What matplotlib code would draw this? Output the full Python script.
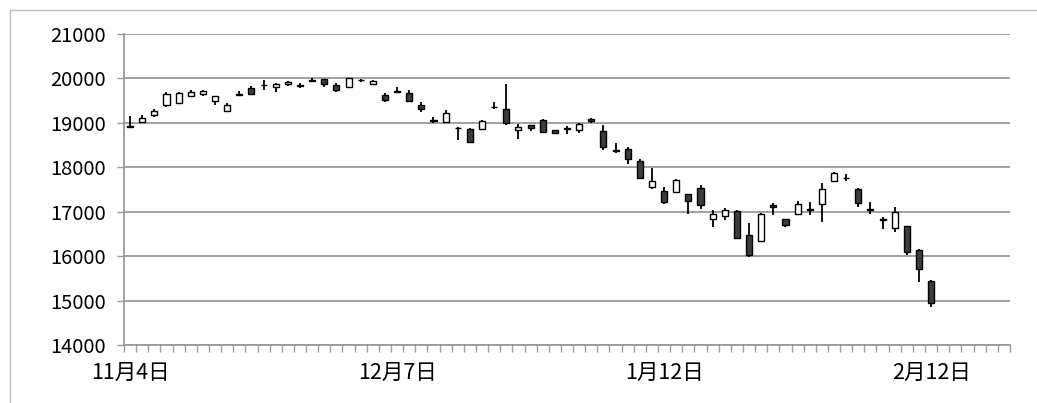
import numpy as np
import matplotlib
matplotlib.use('Agg')
import matplotlib.pyplot as plt
from matplotlib.lines import Line2D

plt.rcParams['font.family'] = ['Noto Sans CJK JP', 'DejaVu Sans']

# trading days, Nov 4 2015 - Feb 12 2016
nov_days = [4, 5, 6, 9, 10, 11, 12, 13, 16, 17, 18, 19, 20, 24, 25, 26, 27, 30]
dec_days = [1, 2, 3, 4, 7, 8, 9, 10, 11, 14, 15, 16, 17, 18, 21, 22, 24, 25, 28, 29, 30]
jan_days = [4, 5, 6, 7, 8, 12, 13, 14, 15, 18, 19, 20, 21, 22, 25, 26, 27, 28, 29]
feb_days = [1, 2, 3, 4, 5, 8, 9, 10, 12]
dates = ([f'11月{d}日' for d in nov_days] + [f'12月{d}日' for d in dec_days]
         + [f'1月{d}日' for d in jan_days] + [f'2月{d}日' for d in feb_days])
n_slots = 73  # axis has a few empty slots after the last day

opens = [18915, 19020, 19185, 19400, 19445, 19610, 19660, 19490, 19262, 19630,
         19780, 19850, 19800, 19870, 19850, 19960, 19990, 19856, 19800, 19968,
         19885, 19630, 19710, 19682, 19411, 19070, 19020, 18895, 18870, 18870,
         19365, 19320, 18833, 18946, 19066, 18830, 18860, 18830, 19080, 18820,
         18398, 18404, 18133, 17560, 17470, 17440, 17395, 17524, 16838, 16914,
         17027, 16470, 16341, 17140, 16838, 16944, 17060, 17163, 17696, 17760,
         17501, 17070, 16830, 16628, 16673, 16131, 15438]
highs = [19150, 19178, 19320, 19698, 19700, 19740, 19740, 19600, 19450, 19727,
         19840, 19968, 19890, 19950, 19894, 20006, 19995, 19900, 20020, 19990,
         19968, 19680, 19804, 19740, 19480, 19126, 19290, 18900, 18890, 19070,
         19480, 19870, 18975, 18950, 19080, 18850, 18930, 18990, 19100, 18951,
         18547, 18450, 18179, 17975, 17547, 17730, 17400, 17600, 17035, 17073,
         17030, 16750, 16980, 17192, 16840, 17245, 17224, 17637, 17899, 17860,
         17531, 17213, 16885, 17095, 16680, 16160, 15470]
lows = [18905, 18990, 19140, 19366, 19440, 19580, 19600, 19397, 19250, 19625,
        19630, 19743, 19705, 19840, 19781, 19916, 19817, 19690, 19790, 19916,
        19856, 19460, 19668, 19480, 19240, 19005, 19010, 18607, 18560, 18860,
        19320, 18960, 18640, 18824, 18770, 18740, 18760, 18765, 19000, 18394,
        18327, 18070, 17757, 17510, 17170, 17410, 16944, 17050, 16660, 16808,
        16390, 15990, 16330, 16920, 16650, 16921, 16918, 16763, 17666, 17690,
        17095, 16940, 16620, 16553, 16034, 15425, 14865]
closes = [18927, 19116, 19266, 19643, 19671, 19698, 19712, 19597, 19393, 19640,
          19660, 19860, 19880, 19925, 19840, 19950, 19884, 19747, 20006, 19962,
          19940, 19504, 19700, 19493, 19301, 19047, 19230, 18883, 18566, 19050,
          19354, 18987, 18916, 18887, 18790, 18769, 18873, 18982, 19034, 18451,
          18374, 18191, 17767, 17698, 17219, 17716, 17241, 17147, 16956, 17048,
          16416, 16017, 16959, 17111, 16709, 17164, 17041, 17518, 17865, 17751,
          17191, 17045, 16820, 17004, 16085, 15713, 14952]

yticks = [14000, 15000, 16000, 17000, 18000, 19000, 20000, 21000]
label_every = 22

fig = plt.figure(figsize=(10.37, 4.03), dpi=100)
ax = fig.add_axes([124 / 1037, 1 - 345 / 403, (1010 - 124) / 1037, (345 - 34) / 403])

x = np.arange(len(dates))
o = np.array(opens)
c = np.array(closes)
up = c >= o

ax.vlines(x, lows, highs, color='black', lw=1.3, zorder=3)
ax.bar(x[up], (c - o)[up], bottom=o[up], width=0.5, facecolor='white',
       edgecolor='black', lw=1.0, zorder=4)
ax.bar(x[~up], (o - c)[~up], bottom=c[~up], width=0.5, facecolor='#3c3c3c',
       edgecolor='black', lw=1.0, zorder=4)

ax.set_xlim(-0.5, n_slots - 0.5)
ax.set_ylim(14000, 21000)
ax.set_yticks(yticks)
ax.set_yticklabels([str(v) for v in yticks])
ax.yaxis.grid(True, color='#9a9a9a', lw=1.3)
ax.set_axisbelow(True)

major = list(range(0, len(dates), label_every))
ax.set_xticks(major)
ax.set_xticklabels([dates[i] for i in major])
ax.set_xticks(np.arange(n_slots + 1) - 0.5, minor=True)
ax.tick_params(axis='x', which='major', length=0, pad=12, labelsize=15.5)
ax.tick_params(axis='x', which='minor', length=5, color='#9a9a9a', width=1)
ax.tick_params(axis='y', length=5, color='#9a9a9a', width=1, pad=8, labelsize=14.5)

for s in ['top', 'right']:
    ax.spines[s].set_visible(False)
for s in ['left', 'bottom']:
    ax.spines[s].set_color('#9a9a9a')
    ax.spines[s].set_linewidth(1.3)

# outer chart-area border (partially visible)
fig.add_artist(Line2D([10 / 1037, 10 / 1037], [0, 1 - 10 / 403], color='#c0c0c0', lw=1))
fig.add_artist(Line2D([10 / 1037, 1], [1 - 10 / 403, 1 - 10 / 403], color='#c0c0c0', lw=1))

fig.savefig('out.png', dpi=100)
